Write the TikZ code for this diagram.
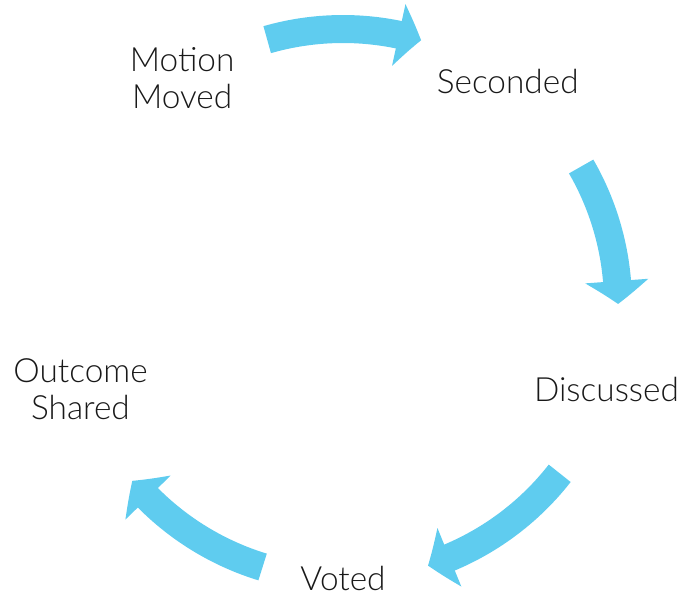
\documentclass[tikz,border=0pt]{standalone}
\usepackage{fontspec}
\setmainfont{Lato Light}
\usetikzlibrary{arrows.meta,bending}
\definecolor{cycleblue}{RGB}{95,204,239}

\begin{document}
\begin{tikzpicture}[
  x=0.02cm,y=0.02cm,
  stage/.style={align=center,inner sep=0pt,
    font=\fontsize{19}{21}\selectfont,text=black!90},
  flow/.style={draw=cycleblue,line width=0.56cm,
    -{Triangle[width=1.24cm,length=0.46cm,bend]}}
]
\useasboundingbox (-343,-292) rectangle (343,304);
% the five stages, one every 72 degrees
\node[stage] (moved) at (125.5:277) {Motion\\Moved};
\node[stage] (seconded) at (53.5:277) {Seconded};
\node[stage] (discussed) at (-18:277) {Discussed};
\node[stage] (voted) at (-90:274) {Voted};
\node[stage] (shared) at (198:276) {Outcome\\Shared};
% curved arrows between them
\coordinate (f1) at (106:275);
\coordinate (f2) at (30:275);
\coordinate (f3) at (-38:275);
\coordinate (f4) at (-107:275);
\draw[flow] (f1) arc[start angle=106,end angle=73.5,radius=275];
\draw[flow] (f2) arc[start angle=30,end angle=0,radius=275];
\draw[flow] (f3) arc[start angle=-38,end angle=-72,radius=275];
\draw[flow] (f4) arc[start angle=-107,end angle=-140,radius=275];
\end{tikzpicture}
\end{document}
